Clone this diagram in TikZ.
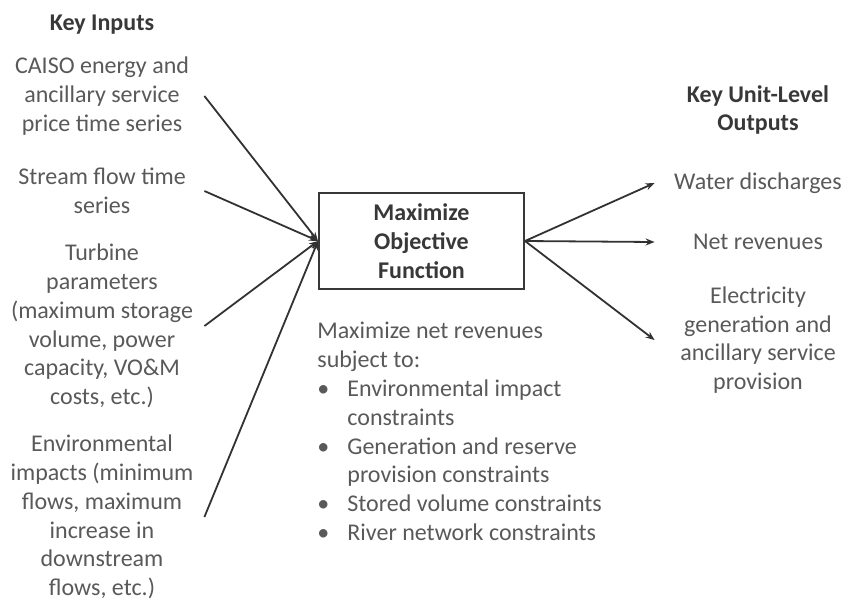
\documentclass[tikz,border=0pt]{standalone}
\usepackage{fontspec}
\setmainfont{Carlito}
\usepackage{tikz}
\usetikzlibrary{arrows.meta, positioning}
\definecolor{textgray}{RGB}{89,89,89}
\definecolor{headgray}{RGB}{56,56,56}
\definecolor{linegray}{RGB}{50,50,50}
\newcommand{\cbullet}{\makebox[15pt][l]{\textbullet}}
\newcommand{\cindent}{\makebox[15pt]{}}

\begin{document}
\begin{tikzpicture}[
    x=0.5pt, y=-0.5pt,
    txt/.style={text=textgray, align=center, inner sep=0pt, font=\fontsize{12}{14.4}\selectfont},
    head/.style={txt, text=headgray, font=\fontsize{12}{14.4}\selectfont\bfseries},
    input/.style={txt, minimum width=102pt},
    output/.style={txt, minimum width=103pt},
    objbox/.style={head, rectangle, draw=headgray, line width=1pt, minimum width=102.5pt, minimum height=48pt},
    flow/.style={-{Stealth[length=4.5pt, width=3.5pt]}, line width=0.9pt, draw=linegray}
]
\useasboundingbox (0,0) rectangle (846,601);

% Inputs
\node[head] (inhead) at (102,25) {Key Inputs};
\node[input] (in1) at (102,96) {CAISO energy and\\ancillary service\\price time series};
\node[input] (in2) at (102,191) {Stream flow time\\series};
\node[input] (in3) at (102,326) {Turbine\\parameters\\(maximum storage\\volume, power\\capacity, VO\&M\\costs, etc.)};
\node[input] (in4) at (102,517) {Environmental\\impacts (minimum\\flows, maximum\\increase in\\downstream\\flows, etc.)};

% Model
\node[objbox] (obj) at (421.5,241) {Maximize\\Objective\\Function};
\node[txt, align=left, anchor=north west] (goal) at (317,322) {Maximize net revenues\\subject to:\\
  \cbullet Environmental impact\\\cindent constraints\\
  \cbullet Generation and reserve\\\cindent provision constraints\\
  \cbullet Stored volume constraints\\
  \cbullet River network constraints};

% Outputs
\node[head] (outhead) at (758,110) {Key Unit-Level\\Outputs};
\node[output] (out1) at (758,183) {Water discharges};
\node[output] (out2) at (758,242) {Net revenues};
\node[output] (out3) at (758,340) {Electricity\\generation and\\ancillary service\\provision};

% Arrows
\draw[flow] (in1.east) -- (obj.west);
\draw[flow] (in2.east) -- (obj.west);
\draw[flow] (in3.east) -- (obj.west);
\draw[flow] (in4.east) -- (obj.west);
\draw[flow] (obj.east) -- (out1.west);
\draw[flow] (obj.east) -- (out2.west);
\draw[flow] (obj.east) -- (out3.west);

\end{tikzpicture}
\end{document}
